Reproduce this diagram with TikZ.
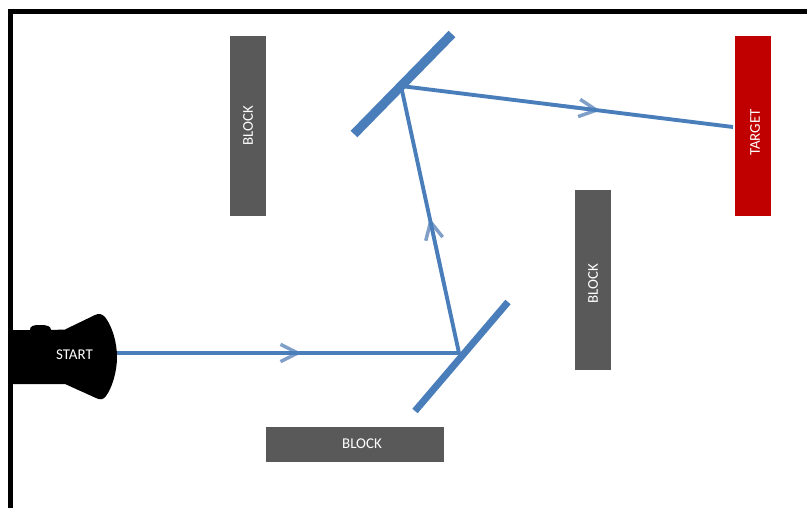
\documentclass[tikz,border=0pt]{standalone}
\usepackage{fontspec}
\setmainfont{Carlito}
\usetikzlibrary{arrows.meta,calc}
\definecolor{beam}{HTML}{4A7EBB}
\definecolor{headc}{HTML}{7F9FC8}
\definecolor{blockc}{HTML}{595959}
\definecolor{targetc}{HTML}{C00000}
\tikzset{
  x=0.75pt,y=-0.75pt,
  wall/.style={draw=black,line width=3.9pt,line cap=butt},
  ray/.style={draw=beam,line width=2.9pt},
  mirror/.style={draw=beam,line cap=butt},
  chevron/.style={draw=headc,line width=2.6pt,-{Straight Barb[length=13pt,width=13pt,line width=2.6pt]}},
  slab/.style={draw=none,inner sep=0pt},
  vslab/.style={slab,minimum width=27pt,minimum height=135pt},
  lbl/.style={inner sep=0pt,text=white,font=\fontsize{11.2}{13}\selectfont}
}
\begin{document}
\begin{tikzpicture}
\useasboundingbox (0,0) rectangle (807,508);
\fill[white] (0,0) rectangle (807,508);
% frame
\coordinate (fb) at (10.5,508);
\coordinate (fc) at (10.5,11.5);
\coordinate (fr) at (807,11.5);
\draw[wall] (fb) -- (fc) -- (fr);
% blocks
\node[vslab,fill=blockc,label={[lbl,rotate=90]center:BLOCK}] (b1) at (248,126) {};
\node[vslab,fill=blockc] (b2) at (593,280) {};
\node[lbl,rotate=90] (b2t) at (593,284) {BLOCK};
\node[vslab,fill=targetc] (t) at (753,126) {};
\node[lbl,rotate=90] (tt) at (755,132.5) {TARGET};
\node[slab,fill=blockc,minimum width=133.5pt,minimum height=26.5pt] (b3) at (355,444.5) {};
\node[lbl] (b3t) at (362,444) {BLOCK};
% source
\fill[black] (12,330) -- (30,330) .. controls (30,326) and (33,325) .. (40,325)
  .. controls (47,325) and (51,326) .. (51,330) -- (65,329.5) -- (95,315)
  .. controls (99,313) and (102,314) .. (105,317)
  .. controls (112,326) and (117,342) .. (117,357)
  .. controls (117,372) and (112,388) .. (106,396)
  .. controls (103,400) and (100,400) .. (96,398)
  -- (65,384) -- (12,384) -- cycle;
\node[lbl] (s) at (74.5,355) {START};
% mirrors
\coordinate (m1a) at (354,134);
\coordinate (m1b) at (452,34);
\coordinate (m2a) at (415,411);
\coordinate (m2b) at (508,302);
\draw[mirror,line width=7pt] (m1a) -- (m1b);
\draw[mirror,line width=5.2pt] (m2a) -- (m2b);
% rays
\coordinate (r0) at (117,353);
\coordinate (r1) at (459,353);
\coordinate (r2) at (401,86);
\coordinate (r3) at (733,127);
% arrow heads
\coordinate (h1) at ($(r0)!0.54!(r1)$);
\coordinate (h1b) at ($(r0)!0.40!(r1)$);
\coordinate (h2) at ($(r1)!0.505!(r2)$);
\coordinate (h2b) at ($(r1)!0.25!(r2)$);
\coordinate (h3) at ($(r2)!0.6!(r3)$);
\coordinate (h3b) at ($(r2)!0.45!(r3)$);
\draw[chevron] (h1b) -- (h1);
\draw[chevron] (h2b) -- (h2);
\draw[chevron] (h3b) -- (h3);
\draw[ray,line join=round] (r0) -- (r1) -- (r2) -- (r3);
\end{tikzpicture}
\end{document}
